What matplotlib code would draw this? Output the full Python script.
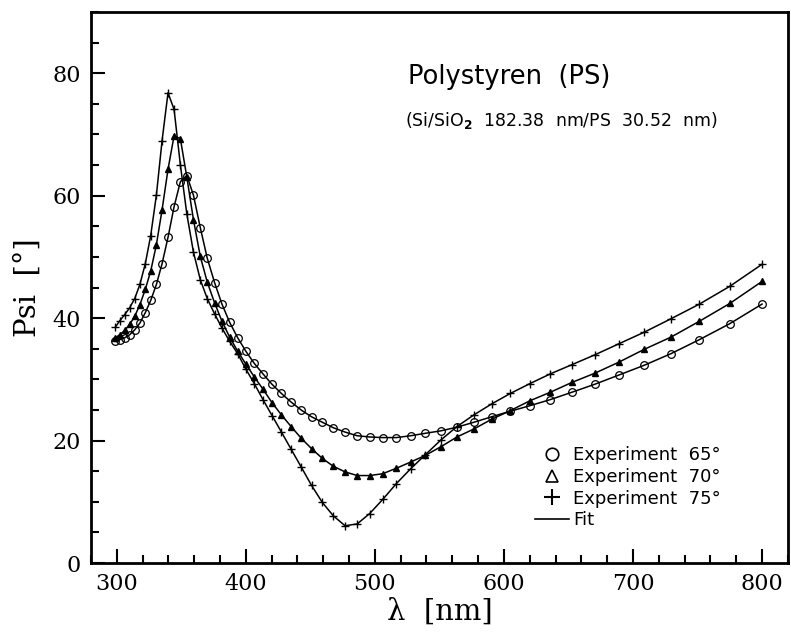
import matplotlib
matplotlib.use('Agg')
import matplotlib.pyplot as plt
from matplotlib.lines import Line2D
from matplotlib.ticker import MultipleLocator

# Messdaten: Wellenlaenge [nm] und Psi [deg] fuer drei Einfallswinkel
wellenlaenge = [298.8, 302.4, 306.2, 310.0, 313.9, 317.9, 322.1, 326.3, 330.7, 335.1,
                339.7, 344.4, 349.3, 354.3, 359.4, 364.7, 370.1, 375.8, 381.5, 387.5,
                393.7, 400.0, 406.6, 413.3, 420.3, 427.6, 435.1, 442.9, 450.9, 459.3,
                467.9, 476.9, 486.3, 496.0, 506.1, 516.7, 527.7, 539.1, 551.1, 563.6,
                576.7, 590.5, 604.9, 620.0, 635.9, 652.6, 670.3, 688.9, 708.6, 729.4,
                751.5, 775.0, 800.0]

psi_65 = [36.2, 36.5, 36.8, 37.3, 38.1, 39.2, 40.9, 42.9, 45.5, 48.9,
          53.2, 58.2, 62.3, 63.3, 60.1, 54.8, 49.8, 45.8, 42.3, 39.3,
          36.8, 34.6, 32.6, 30.9, 29.2, 27.7, 26.3, 25.0, 23.9, 23.0,
          22.1, 21.4, 20.8, 20.6, 20.5, 20.5, 20.8, 21.2, 21.6, 22.2,
          23.0, 23.9, 24.8, 25.7, 26.7, 27.9, 29.2, 30.7, 32.3, 34.2,
          36.5, 39.1, 42.3]

psi_70 = [36.8, 37.3, 38.0, 39.0, 40.3, 42.2, 44.7, 47.7, 52.0, 57.7,
          64.3, 69.8, 69.3, 63.0, 56.1, 50.1, 45.9, 42.5, 39.5, 36.9,
          34.6, 32.5, 30.4, 28.4, 26.2, 24.2, 22.3, 20.4, 18.7, 17.1,
          15.8, 14.9, 14.3, 14.3, 14.6, 15.5, 16.5, 17.6, 19.0, 20.6,
          21.9, 23.5, 24.9, 26.5, 27.9, 29.5, 31.0, 32.8, 34.9, 36.9,
          39.5, 42.4, 46.0]

psi_75 = [38.5, 39.6, 40.6, 41.7, 43.2, 45.5, 48.9, 53.5, 60.1, 69.0,
          76.8, 74.1, 65.0, 57.0, 50.8, 46.3, 43.2, 40.7, 38.4, 36.2,
          34.2, 31.7, 29.3, 26.7, 24.1, 21.4, 18.6, 15.7, 12.7, 9.9,
          7.7, 6.1, 6.4, 8.1, 10.4, 13.0, 15.4, 17.7, 20.1, 22.3,
          24.2, 26.0, 27.7, 29.3, 30.9, 32.4, 34.0, 35.8, 37.7, 39.9,
          42.3, 45.2, 48.8]

legenden_text = ['Experiment  65°', 'Experiment  70°', 'Experiment  75°', 'Fit']

plt.rcParams['font.family'] = 'DejaVu Serif'
plt.rcParams['mathtext.fontset'] = 'dejavusans'

fig = plt.figure(figsize=(7.91, 6.32), dpi=100)
ax = fig.add_axes([0.115, 0.109, 0.881, 0.872])

# Messpunkte + Fitkurven
ax.plot(wellenlaenge, psi_65, '-', color='black', linewidth=1.1,
        marker='o', markersize=5.5, markerfacecolor='none',
        markeredgecolor='black', markeredgewidth=0.9)
ax.plot(wellenlaenge, psi_70, '-', color='black', linewidth=1.1,
        marker='^', markersize=5, markerfacecolor='black', markeredgecolor='black')
ax.plot(wellenlaenge, psi_75, '-', color='black', linewidth=1.1,
        marker='+', markersize=6, markeredgewidth=1.0)

# Achsen
ax.set_xlim(280, 820)
ax.set_ylim(0, 90)
ax.xaxis.set_major_locator(MultipleLocator(100))
ax.xaxis.set_minor_locator(MultipleLocator(20))
ax.yaxis.set_major_locator(MultipleLocator(20))
ax.yaxis.set_minor_locator(MultipleLocator(5))
ax.tick_params(which='both', direction='in', top=False, right=False, width=1.5)
ax.tick_params(which='major', length=10, labelsize=16, pad=7)
ax.tick_params(which='minor', length=6)
for sp in ax.spines.values():
    sp.set_linewidth(2)

ax.set_xlabel('λ  [nm]', fontsize=21, labelpad=2)
ax.set_ylabel('Psi  [°]', fontsize=21, labelpad=8)

# Beschriftung
ax.text(0.455, 0.882, 'Polystyren  (PS)', transform=ax.transAxes,
        family='DejaVu Sans', fontsize=18.5, ha='left', va='center')
ax.text(0.450, 0.804, r'(Si/SiO$_\mathbf{2}$  182.38  nm/PS  30.52  nm)',
        transform=ax.transAxes, family='DejaVu Sans', fontsize=12.5,
        ha='left', va='center')

# Legende
handles = [Line2D([], [], linestyle='none', marker='o', markersize=9,
                  markerfacecolor='none', markeredgecolor='black', markeredgewidth=1.2),
           Line2D([], [], linestyle='none', marker='^', markersize=9,
                  markerfacecolor='none', markeredgecolor='black', markeredgewidth=1.2),
           Line2D([], [], linestyle='none', marker='+', markersize=11,
                  markeredgecolor='black', markeredgewidth=1.5),
           Line2D([], [], color='black', linewidth=1.2)]
ax.legend(handles, legenden_text, loc='upper left', bbox_to_anchor=(0.637, 0.212),
          frameon=False, borderaxespad=0, borderpad=0, handlelength=1.9,
          handletextpad=0.2, labelspacing=0.2,
          prop={'family': 'DejaVu Sans', 'size': 13})

plt.savefig('out.png', dpi=100)
